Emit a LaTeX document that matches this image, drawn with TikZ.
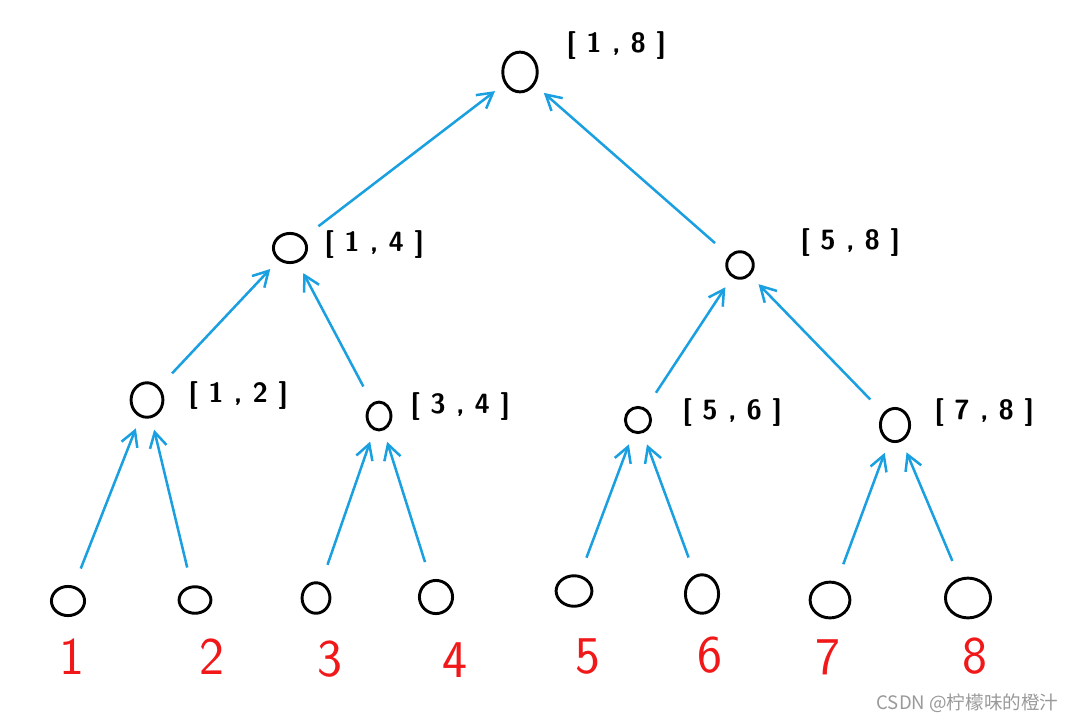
\documentclass[tikz,border=0pt]{standalone}
\usepackage{fontspec}
\usetikzlibrary{arrows.meta,shapes.geometric}
\newfontfamily\cjk{Noto Sans CJK SC}
\definecolor{sky}{HTML}{1AA0E0}
\definecolor{ink}{HTML}{000000}
\definecolor{redink}{HTML}{F01818}
\definecolor{faint}{HTML}{999999}
\tikzset{dot/.style={draw=ink,ellipse,line width=2.2pt,inner sep=0pt},
 up/.style={-{Straight Barb[length=4mm,width=4.5mm]},draw=sky,line width=1.9pt,
 shorten <=14pt,shorten >=9pt},
 spanlabel/.style={font=\sffamily\bfseries\fontsize{21}{21}\selectfont,anchor=west},
 leafnum/.style={text=redink,font=\sffamily\fontsize{40}{40}\selectfont}}

\begin{document}
\begin{tikzpicture}[x=0.0265cm,y=-0.0265cm]
\useasboundingbox (0,0) rectangle (1078,721);
% tree nodes
\node[dot,minimum width=26pt,minimum height=30pt] (r) at (520,72) {};
\node[dot,minimum width=25pt,minimum height=22pt] (n14) at (290,248) {};
\node[dot,minimum width=20pt,minimum height=20pt] (n58) at (740,265) {};
\node[dot,minimum width=24pt,minimum height=26pt] (n12) at (147,400) {};
\node[dot,minimum width=18pt,minimum height=21pt] (n34) at (379,416) {};
\node[dot,minimum width=19pt,minimum height=19pt] (n56) at (638,420) {};
\node[dot,minimum width=22pt,minimum height=25pt] (n78) at (895,425) {};
% leaves
\node[dot,minimum width=25pt,minimum height=22pt] (l1) at (68,601) {};
\node[dot,minimum width=24pt,minimum height=20pt] (l2) at (195,600) {};
\node[dot,minimum width=21pt,minimum height=23pt] (l3) at (316,598) {};
\node[dot,minimum width=25pt,minimum height=25pt] (l4) at (436,597) {};
\node[dot,minimum width=27pt,minimum height=23pt] (l5) at (574,591) {};
\node[dot,minimum width=25pt,minimum height=29pt] (l6) at (702,594) {};
\node[dot,minimum width=30pt,minimum height=27pt] (l7) at (830,600) {};
\node[dot,minimum width=34pt,minimum height=30pt] (l8) at (968,598) {};
% ranges
\node[spanlabel] (t18) at (562,46) {[ 1 , 8 ]};
\node[spanlabel] (t14) at (320,245) {[ 1 , 4 ]};
\node[spanlabel] (t58) at (796,243) {[ 5 , 8 ]};
\node[spanlabel] (t12) at (184,396) {[ 1 , 2 ]};
\node[spanlabel] (t34) at (406,407) {[ 3 , 4 ]};
\node[spanlabel] (t56) at (678,413) {[ 5 , 6 ]};
\node[spanlabel] (t78) at (930,413) {[ 7 , 8 ]};
% leaf numbers
\node[leafnum] (d1) at (72,657) {1};
\node[leafnum] (d2) at (212,657) {2};
\node[leafnum] (d3) at (330,659) {3};
\node[leafnum] (d4) at (455,660) {4};
\node[leafnum] (d5) at (588,657) {5};
\node[leafnum] (d6) at (710,655) {6};
\node[leafnum] (d7) at (828,657) {7};
\node[leafnum] (d8) at (975,656) {8};
% arrows
\draw[up] (n14)--(r);\draw[up] (n58)--(r);
\draw[up] (n12)--(n14);\draw[up] (n34)--(n14);
\draw[up] (n56)--(n58);\draw[up] (n78)--(n58);
\draw[up] (l1)--(n12);\draw[up] (l2)--(n12);
\draw[up] (l3)--(n34);\draw[up] (l4)--(n34);
\draw[up] (l5)--(n56);\draw[up] (l6)--(n56);
\draw[up] (l7)--(n78);\draw[up] (l8)--(n78);
\node[text=faint,font=\cjk\fontsize{14}{14}\selectfont,anchor=east] (wm) at (1063,703) {CSDN @柠檬味的橙汁};
\end{tikzpicture}
\end{document}
